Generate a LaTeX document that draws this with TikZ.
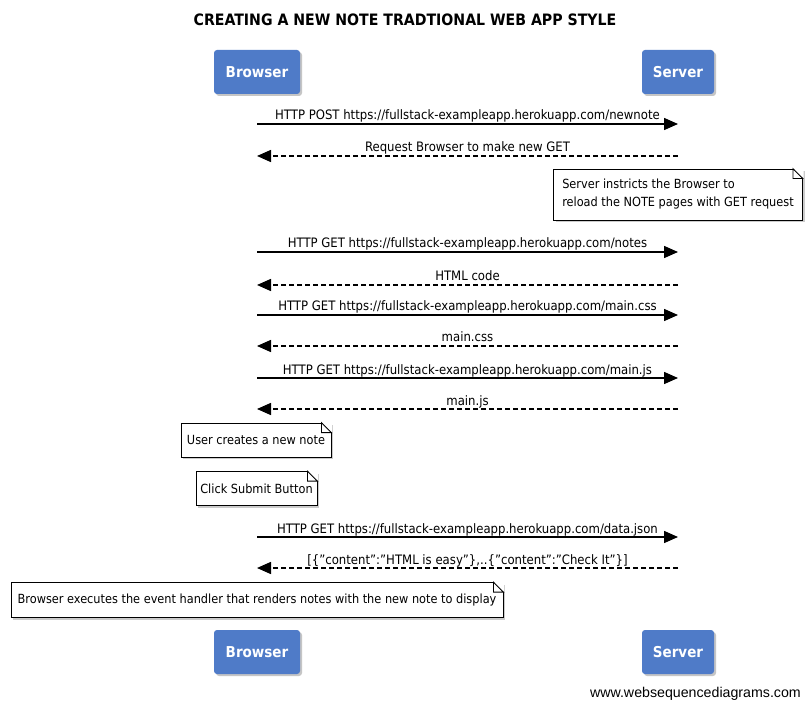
\documentclass[tikz,border=0pt]{standalone}
\usepackage{fontspec}
\setmainfont{DejaVu Sans Condensed}
\newfontfamily\footfont{Liberation Sans}
\usetikzlibrary{arrows.meta,shadows}
\pgfdeclarelayer{lifelayer}
\pgfsetlayers{lifelayer,main}
\definecolor{partblue}{HTML}{4F7BC8}
\definecolor{lifegray}{HTML}{8C8C8C}
\tikzset{
  part/.style={fill=partblue, rounded corners=3pt, text=white,
    font=\fontsize{15}{18}\selectfont\bfseries, minimum width=86pt, minimum height=44pt,
    inner sep=0pt, drop shadow={shadow xshift=2pt, shadow yshift=-2pt, fill=black!45}},
  lifeline/.style={draw=lifegray, line width=2pt},
  msgsolid/.style={line width=1.5pt, -{Triangle[length=14pt,width=12pt]}},
  msgdash/.style={line width=1.5pt, dash pattern=on 5pt off 3pt, -{Triangle[length=14pt,width=12pt]}},
  msglabel/.style={font=\fontsize{13}{15}\selectfont, inner sep=0pt, anchor=base},
  notebox/.style={draw=black, line width=0.8pt, fill=white, inner sep=0pt,
    font=\fontsize{12.6}{18}\selectfont, align=left,
    drop shadow={shadow xshift=2pt, shadow yshift=-2pt, fill=black!40}},
  foldfill/.style={fill=white},
  foldline/.style={draw=black, line width=0.8pt},
}
\newcommand\wsdfold[1]{%
  \fill[foldfill] ([xshift=-10pt,yshift=0.6pt]#1.north east) -- ([xshift=0.6pt,yshift=0.6pt]#1.north east) -- ([xshift=0.6pt,yshift=-10pt]#1.north east) -- cycle;
  \draw[foldline] ([xshift=-10pt]#1.north east) -- ([yshift=-10pt]#1.north east) -- ([xshift=-10pt,yshift=-10pt]#1.north east) -- cycle;
}
\begin{document}
\begin{tikzpicture}[x=1pt,y=-1pt]
\useasboundingbox (0,0) rectangle (811,708);
\fill[white] (0,0) rectangle (811,708);

\node[font=\fontsize{15.7}{18}\selectfont\bfseries, anchor=base] (title) at (405,26) {CREATING A NEW NOTE TRADTIONAL WEB APP STYLE};

\node[part] (bT) at (257,72) {Browser};
\node[part, minimum width=72pt] (sT) at (678,72) {Server};
\node[part] (bB) at (257,652) {Browser};
\node[part, minimum width=72pt] (sB) at (678,652) {Server};

\begin{pgfonlayer}{lifelayer}
\draw[lifeline] (bT.south) -- (bB.north);
\draw[lifeline] (sT.south) -- (sB.north);
\end{pgfonlayer}

% message coordinates
\foreach \n/\y in {1/124,2/156,4/252,5/285,6/315,7/346,8/378,9/409,12/537,13/568}{
  \coordinate (b\n) at (257,\y);
  \coordinate (s\n) at (678,\y);
}

\draw[msgsolid] (b1) -- (s1);
\node[msglabel] (l1) at (467.5,120) {HTTP POST https://fullstack-exampleapp.herokuapp.com/newnote};
\draw[msgdash] (s2) -- (b2);
\node[msglabel] (l2) at (467.5,152) {Request Browser to make new GET};

\node[notebox, minimum width=249pt, minimum height=51pt] (n1) at (678,194.5)
  {Server instricts the Browser to\\reload the NOTE pages with GET request};
\wsdfold{n1}

\draw[msgsolid] (b4) -- (s4);
\node[msglabel] (l4) at (467.5,248) {HTTP GET https://fullstack-exampleapp.herokuapp.com/notes};
\draw[msgdash] (s5) -- (b5);
\node[msglabel] (l5) at (467.5,281) {HTML code};
\draw[msgsolid] (b6) -- (s6);
\node[msglabel] (l6) at (467.5,311) {HTTP GET https://fullstack-exampleapp.herokuapp.com/main.css};
\draw[msgdash] (s7) -- (b7);
\node[msglabel] (l7) at (467.5,342) {main.css};
\draw[msgsolid] (b8) -- (s8);
\node[msglabel] (l8) at (467.5,374) {HTTP GET https://fullstack-exampleapp.herokuapp.com/main.js};
\draw[msgdash] (s9) -- (b9);
\node[msglabel] (l9) at (467.5,405) {main.js};

\node[notebox, minimum width=150pt, minimum height=34pt] (n2) at (256,440) {User creates a new note};
\wsdfold{n2}
\node[notebox, minimum width=121pt, minimum height=34pt] (n3) at (256.5,488.5) {Click Submit Button};
\wsdfold{n3}

\draw[msgsolid] (b12) -- (s12);
\node[msglabel] (l12) at (467.5,533) {HTTP GET https://fullstack-exampleapp.herokuapp.com/data.json};
\draw[msgdash] (s13) -- (b13);
\node[msglabel] (l13) at (467.5,564) {[\{"content":"HTML is easy"\},..\{"content":"Check It"\}]};

\node[notebox, minimum width=492pt, minimum height=35pt] (n4) at (257,600)
  {Browser executes the event handler that renders notes with the new note to display};
\wsdfold{n4}

\node[font=\footfont\fontsize{14.2}{16}\selectfont, anchor=base east, inner sep=0pt] (foot) at (801,697) {www.websequencediagrams.com};
\end{tikzpicture}
\end{document}
